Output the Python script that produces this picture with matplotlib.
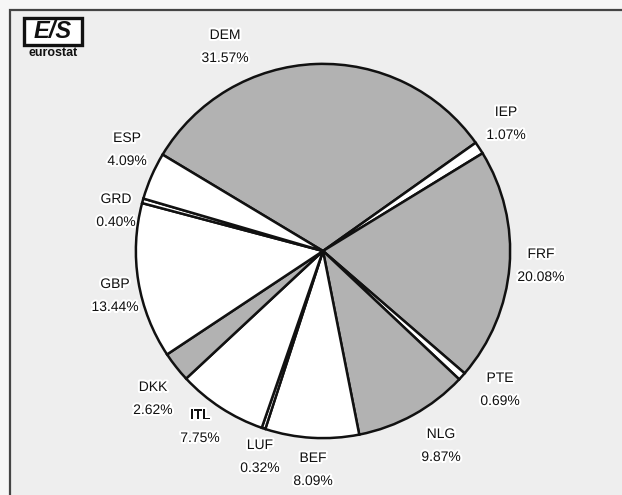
import matplotlib.pyplot as plt
import matplotlib.patheffects as pe
from matplotlib.patches import Rectangle

# Currency shares (clockwise from DEM)
currencies = ['DEM', 'IEP', 'FRF', 'PTE', 'NLG', 'BEF', 'LUF', 'ITL', 'DKK', 'GBP', 'GRD', 'ESP']
shares = [31.57, 1.07, 20.08, 0.69, 9.87, 8.09, 0.32, 7.75, 2.62, 13.44, 0.40, 4.09]
shaded = [True, False, True, False, True, False, False, False, True, False, False, False]

# label centres in pixels (x, y from top) for name line
label_pos = [(225, 35), (506, 112), (541, 254), (500, 378), (441, 434), (313, 458),
             (260, 445), (200, 415), (153, 387), (115, 284), (116, 199), (127, 138)]

W, H = 622, 495
fig = plt.figure(figsize=(W / 100, H / 100), dpi=100)
fig.patch.set_facecolor('#f6f6f6')

# framed panel
bg = fig.add_axes([0, 0, 1, 1])
bg.set_xlim(0, W)
bg.set_ylim(H, 0)
bg.axis('off')
bg.add_patch(Rectangle((10, 10), W, H, facecolor='#eeeeee', edgecolor='#444444', lw=1.6))
# lighter blotches in the scan background
for (x0, y0, w, h) in [(405, 14, 165, 48), (80, 64, 80, 50), (160, 225, 85, 80),
                       (490, 395, 132, 100), (80, 395, 80, 100), (0, 225, 55, 75)]:
    bg.add_patch(Rectangle((x0, y0), w, h, facecolor='#f6f6f6', edgecolor='none', zorder=0.5))

# eurostat logo
bg.add_patch(Rectangle((24, 18), 58, 27, facecolor='white', edgecolor='#111111', lw=2.4))
bg.text(53, 32, 'E/S', ha='center', va='center', fontsize=17, fontweight='bold',
        style='italic', family='Liberation Sans', color='#111111')
bg.text(53, 53, 'eurostat', ha='center', va='center', fontsize=9, fontweight='bold',
        family='Liberation Sans', color='#111111')

# pie
cx, cy, r = 323, 251, 189
ax = fig.add_axes([(cx - r) / W, (H - cy - r) / H, 2 * r / W, 2 * r / H])
colors = ['#b2b2b2' if s else 'white' for s in shaded]
ax.pie(shares, colors=colors, startangle=149, counterclock=False,
       wedgeprops=dict(edgecolor='#111111', linewidth=1.8))
ax.set_xlim(-1.01, 1.01)
ax.set_ylim(-1.01, 1.01)
ax.axis('off')

halo = [pe.withStroke(linewidth=3, foreground='white')]
for name, val, (x, y) in zip(currencies, shares, label_pos):
    for txt, yy in [(name, y), (f'{val:.2f}%', y + 23)]:
        bg.text(x, yy, txt, ha='center', va='center', fontsize=10,
                family='Liberation Sans', color='#111111', path_effects=halo)

fig.savefig('out.png', dpi=100)
